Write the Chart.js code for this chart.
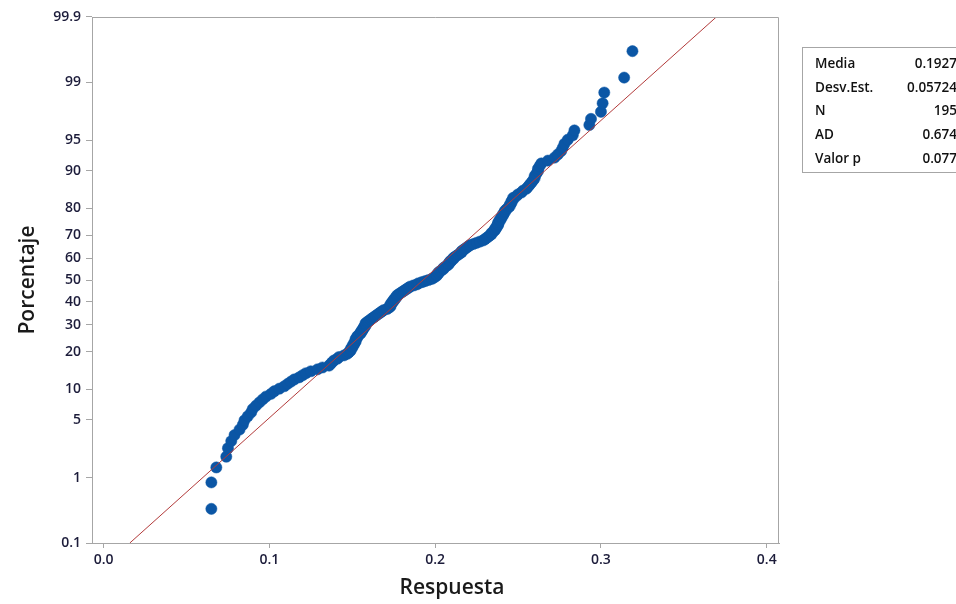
<!DOCTYPE html>
<html>
<head>
<meta charset="utf-8">
<script src="https://cdn.jsdelivr.net/npm/chart.js@4.4.1/dist/chart.umd.min.js"></script>
<style>
  html, body { margin: 0; padding: 0; background: #fff; overflow: hidden; }
  #wrap { position: relative; width: 956px; height: 604px; }
  #stats {
    position: absolute; left: 802px; top: 47px; width: 200px; height: 124px;
    border: 1px solid #a6a6a6; font-family: "Open Sans", sans-serif; font-size: 13.5px;
    font-weight: 600; color: #111;
  }
  #stats div { position: absolute; height: 20px; line-height: 20px; white-space: nowrap; }
  #stats .lab { left: 12px; }
  #stats .val { right: 46px; text-align: right; }
</style>
</head>
<body>
<div id="wrap">
  <canvas id="chart" width="956" height="604"></canvas>
  <div id="stats"></div>
</div>
<script>
// sorted sample values (195 points)
const respuesta = [
  0.065, 0.065, 0.068, 0.074, 0.075, 0.077, 0.079, 0.082, 0.084, 0.085,
  0.087, 0.089, 0.090, 0.092, 0.094, 0.096, 0.098, 0.101, 0.103, 0.106,
  0.109, 0.111, 0.113, 0.115, 0.118, 0.120, 0.122, 0.125, 0.129, 0.132,
  0.136, 0.137, 0.138, 0.139, 0.141, 0.142, 0.145, 0.147, 0.148, 0.149,
  0.149, 0.150, 0.150, 0.151, 0.151, 0.152, 0.152, 0.152, 0.153, 0.153,
  0.154, 0.155, 0.155, 0.156, 0.156, 0.157, 0.157, 0.158, 0.158, 0.158,
  0.159, 0.160, 0.161, 0.162, 0.163, 0.164, 0.165, 0.166, 0.167, 0.168,
  0.169, 0.171, 0.172, 0.173, 0.173, 0.173, 0.174, 0.174, 0.175, 0.175,
  0.176, 0.176, 0.177, 0.177, 0.178, 0.179, 0.180, 0.181, 0.182, 0.183,
  0.184, 0.185, 0.187, 0.189, 0.190, 0.192, 0.194, 0.196, 0.198, 0.199,
  0.200, 0.201, 0.201, 0.202, 0.202, 0.203, 0.204, 0.205, 0.205, 0.206,
  0.207, 0.208, 0.208, 0.209, 0.209, 0.210, 0.211, 0.211, 0.212, 0.213,
  0.214, 0.215, 0.216, 0.216, 0.217, 0.218, 0.219, 0.220, 0.221, 0.223,
  0.225, 0.227, 0.229, 0.230, 0.231, 0.232, 0.233, 0.234, 0.234, 0.235,
  0.236, 0.236, 0.237, 0.237, 0.238, 0.238, 0.238, 0.239, 0.239, 0.240,
  0.240, 0.241, 0.241, 0.242, 0.242, 0.243, 0.244, 0.245, 0.245, 0.246,
  0.246, 0.247, 0.247, 0.249, 0.250, 0.252, 0.253, 0.255, 0.256, 0.257,
  0.258, 0.259, 0.260, 0.260, 0.261, 0.262, 0.262, 0.263, 0.264, 0.268,
  0.272, 0.274, 0.276, 0.277, 0.278, 0.280, 0.283, 0.284, 0.293, 0.294,
  0.300, 0.301, 0.302, 0.314, 0.319
];

const media = 0.1927;
const desvEst = 0.05724;

const probTicks = [0.1, 1, 5, 10, 20, 30, 40, 50, 60, 70, 80, 90, 95, 99, 99.9];
const probLabels = ["0.1", "1", "5", "10", "20", "30", "40", "50", "60", "70", "80", "90", "95", "99", "99.9"];
const xTicks = [0.0, 0.1, 0.2, 0.3, 0.4];
const xLabels = ["0.0", "0.1", "0.2", "0.3", "0.4"];

const statNames = ["Media", "Desv.Est.", "N", "AD", "Valor p"];
const statValues = ["0.1927", "0.05724", "195", "0.674", "0.077"];

// inverse normal cdf (Acklam)
function qnorm(p) {
  const a = [-3.969683028665376e+01, 2.209460984245205e+02, -2.759285104469687e+02, 1.383577518672690e+02, -3.066479806614716e+01, 2.506628277459239e+00];
  const b = [-5.447609879822406e+01, 1.615858368580409e+02, -1.556989798598866e+02, 6.680131188771972e+01, -1.328068155288572e+01];
  const c = [-7.784894002430293e-03, -3.223964580411365e-01, -2.400758277161838e+00, -2.549732539343734e+00, 4.374664141464968e+00, 2.938163982698783e+00];
  const d = [7.784695709041462e-03, 3.224671290700398e-01, 2.445134137142996e+00, 3.754408661907416e+00];
  const pl = 0.02425;
  let q, r;
  if (p < pl) {
    q = Math.sqrt(-2 * Math.log(p));
    return (((((c[0]*q+c[1])*q+c[2])*q+c[3])*q+c[4])*q+c[5]) / ((((d[0]*q+d[1])*q+d[2])*q+d[3])*q+1);
  }
  if (p <= 1 - pl) {
    q = p - 0.5; r = q * q;
    return (((((a[0]*r+a[1])*r+a[2])*r+a[3])*r+a[4])*r+a[5])*q / (((((b[0]*r+b[1])*r+b[2])*r+b[3])*r+b[4])*r+1);
  }
  q = Math.sqrt(-2 * Math.log(1 - p));
  return -(((((c[0]*q+c[1])*q+c[2])*q+c[3])*q+c[4])*q+c[5]) / ((((d[0]*q+d[1])*q+d[2])*q+d[3])*q+1);
}

// median rank plotting positions
const n = respuesta.length;
const points = respuesta.map((v, i) => ({ x: v, y: qnorm((i + 1 - 0.3) / (n + 0.4)) }));

const zMax = qnorm(0.999);
const fitLine = [
  { x: media - zMax * desvEst, y: -zMax },
  { x: media + zMax * desvEst, y: zMax }
];

// stats box
const statsBox = document.getElementById("stats");
statNames.forEach((name, i) => {
  const top = 5 + i * 23.7;
  statsBox.insertAdjacentHTML("beforeend",
    `<div class="lab" style="top:${top}px">${name}</div><div class="val" style="top:${top}px">${statValues[i]}</div>`);
});

const titleFont = { family: "'Open Sans', sans-serif", size: 21, weight: "600", lineHeight: 1.2 };

// frame on top/right, and the x title (sits a bit right of the axis centre)
const framePlugin = {
  id: "frame",
  afterDraw(chart) {
    const { ctx, chartArea: a } = chart;
    ctx.save();
    ctx.strokeStyle = "#a6a6a6";
    ctx.lineWidth = 1;
    ctx.beginPath();
    ctx.moveTo(a.left, a.top + 0.5);
    ctx.lineTo(a.right - 0.5, a.top + 0.5);
    ctx.lineTo(a.right - 0.5, a.bottom);
    ctx.stroke();
    ctx.font = `600 21px 'Open Sans', sans-serif`;
    ctx.fillStyle = "#1a1a1a";
    ctx.textAlign = "center";
    ctx.textBaseline = "middle";
    ctx.fillText("Respuesta", 452, 588);
    ctx.restore();
  }
};

const tickFont = { family: "'Open Sans', sans-serif", size: 14, weight: "600" };

new Chart(document.getElementById("chart").getContext("2d"), {
  type: "scatter",
  data: {
    datasets: [
      {
        label: "Ajuste",
        data: fitLine,
        showLine: true,
        borderColor: "#b23a3a",
        borderWidth: 1,
        pointRadius: 0,
        fill: false
      },
      {
        label: "Respuesta",
        data: points,
        backgroundColor: "#0b56a5",
        borderColor: "#0b56a5",
        borderWidth: 0.5,
        pointRadius: 5.6
      }
    ]
  },
  options: {
    responsive: false,
    animation: false,
    layout: { padding: { top: 17, right: 177, left: 0, bottom: 0 } },
    plugins: { legend: { display: false }, tooltip: { enabled: false } },
    scales: {
      x: {
        type: "linear",
        min: -0.007,
        max: 0.4074,
        afterBuildTicks: (scale) => { scale.ticks = xTicks.map(v => ({ value: v })); },
        afterFit: (scale) => { scale.height = 61; },
        ticks: {
          font: tickFont, color: "#1c1c3a", padding: 4, maxRotation: 0,
          callback: (value, index) => xLabels[index]
        },
        grid: { drawOnChartArea: false, drawTicks: true, tickLength: 5, color: "#a6a6a6" },
        border: { color: "#a6a6a6", width: 1 },
        title: { display: false }
      },
      y: {
        type: "linear",
        min: -zMax,
        max: zMax,
        afterBuildTicks: (scale) => { scale.ticks = probTicks.map(p => ({ value: qnorm(p / 100) })); },
        afterFit: (scale) => { scale.width = 92; },
        ticks: {
          font: tickFont, color: "#1c1c3a", padding: 5,
          callback: (value, index) => probLabels[index]
        },
        grid: { drawOnChartArea: false, drawTicks: true, tickLength: 6, color: "#a6a6a6" },
        border: { color: "#a6a6a6", width: 1 },
        title: { display: true, text: "Porcentaje", font: titleFont, color: "#1a1a1a", padding: { top: 15, bottom: 0 } }
      }
    }
  },
  plugins: [framePlugin]
});
</script>
</body>
</html>
